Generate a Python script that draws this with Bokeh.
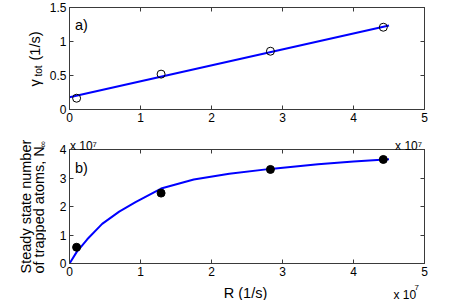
from math import pi
from bokeh.plotting import figure
from bokeh.layouts import column, row
from bokeh.models import Range1d, LinearAxis, FixedTicker, NumeralTickFormatter, Label
from bokeh.embed import file_html
from bokeh.resources import INLINE

# ---- data (R in units of 1e7 1/s) ----
R_meas = [0.1, 1.29, 2.83, 4.42]
gamma_meas = [0.166, 0.52, 0.857, 1.21]
fit_R = [0.0, 4.5]
fit_gamma = [0.18, 1.235]

N_meas = [0.57, 2.47, 3.30, 3.65]          # units of 1e7
curve_R = [0.0, 0.1, 0.25, 0.46, 0.7, 0.93, 1.29, 1.75, 2.25, 2.83, 3.5, 4.0, 4.5]
curve_N = [0.0, 0.40, 0.85, 1.39, 1.82, 2.15, 2.63, 2.95, 3.15, 3.32, 3.48, 3.58, 3.66]

x_ticks = [0, 1, 2, 3, 4, 5]
y1_ticks = [0, 0.5, 1, 1.5]
y2_ticks = [0, 1, 2, 3, 4]
exp_label = "x 10\u2077"

FONT = "Liberation Sans"
FRAME = "#3a3a3a"
BLUE = "#0000ff"

# page layout (pixels)
FRAME_L, FRAME_R = 67, 424
LW = 46                    # width of the y-label strip
H1, H2, H3 = 130, 150, 20  # heights of the rows
PW = 452 - LW


def style_axis(ax, shown):
    ax.axis_line_color = FRAME
    ax.major_tick_line_color = FRAME
    ax.major_tick_in = 4
    ax.major_tick_out = 0
    ax.minor_tick_line_color = None
    ax.major_label_text_font = FONT
    ax.major_label_text_color = "black"
    ax.major_label_text_font_size = "12px"
    ax.major_label_standoff = 3
    if not shown:
        ax.major_label_text_color = None
        ax.major_label_text_font_size = "1px"
        ax.major_label_standoff = 0


def make_fig(h, top, bottom, ymax, yticks, yfmt, above_axis=None):
    p = figure(width=PW, height=h, x_range=Range1d(0, 5), y_range=Range1d(0, ymax),
               output_backend="svg", toolbar_location=None,
               min_border_left=FRAME_L - LW, min_border_right=452 - FRAME_R,
               min_border_top=top, min_border_bottom=bottom,
               x_axis_type=None, y_axis_type=None)
    p.grid.visible = False
    p.outline_line_color = FRAME
    p.outline_line_width = 1
    ax = LinearAxis(ticker=FixedTicker(ticks=x_ticks)); style_axis(ax, True); p.add_layout(ax, "below")
    ax = LinearAxis(ticker=FixedTicker(ticks=yticks), formatter=yfmt); style_axis(ax, True); p.add_layout(ax, "left")
    ax = LinearAxis(ticker=FixedTicker(ticks=yticks)); style_axis(ax, False); p.add_layout(ax, "right")
    if above_axis is None:
        ax = LinearAxis(ticker=FixedTicker(ticks=x_ticks)); style_axis(ax, False)
    else:
        ax = above_axis
    p.add_layout(ax, "above")
    return p


def text_fig(w, h):
    t = figure(width=w, height=h, output_backend="svg", toolbar_location=None,
               x_range=Range1d(0, 1), y_range=Range1d(0, 1),
               min_border=0, x_axis_type=None, y_axis_type=None)
    t.grid.visible = False
    t.outline_line_color = None
    return t


def lab(p, x, y, text, size, align="left", baseline="alphabetic", angle=0):
    # x, y: canvas pixels from the top-left corner of the figure
    p.add_layout(Label(x=x, y=y, x_units="canvas", y_units="canvas", text=text,
                       text_font=FONT, text_font_size=size,
                       text_align=align, text_baseline=baseline, angle=angle,
                       text_color="black"))


def px_to_x(px):
    return (px - FRAME_L) / (FRAME_R - FRAME_L) * 5


# ---- y-label strip ----
tA = text_fig(LW, H1)
lab(tA, 34, 86, "γ", "14.5px", angle=pi / 2)
lab(tA, 38, 76, "tot", "10px", angle=pi / 2)
lab(tA, 34, 60, "(1/s)", "14.5px", angle=pi / 2)

tB = text_fig(LW, H2 + H3)
lab(tB, 25, 273 - H1, "Steady state number", "14.5px", angle=pi / 2)
lab(tB, 38, 273 - H1, "of trapped atoms, N", "14.5px", angle=pi / 2)
lab(tB, 42, 147 - H1, "∞", "9px", angle=pi / 2)

# ---- panel a ----
p1 = make_fig(H1, 7, 21, 1.5, y1_ticks, NumeralTickFormatter(format="0.[0]"))
p1.line(fit_R, fit_gamma, line_color=BLUE, line_width=2)
p1.scatter(R_meas, gamma_meas, marker="circle", size=8, fill_color=None,
           line_color="black", line_width=1)
lab(p1, 81 - LW, 24, "a)", "14.5px", "center", "middle")

# ---- panel b ----
# top axis of panel b: mirrored ticks as minor ticks, its labels carry the
# exponent notes (left: panel b's y scale, right: panel a's x scale)
exp_pos = [px_to_x(81), px_to_x(408)]
top_b = LinearAxis(ticker=FixedTicker(ticks=exp_pos, minor_ticks=x_ticks),
                   major_label_overrides={v: exp_label for v in exp_pos})
top_b.axis_line_color = FRAME
top_b.major_tick_line_color = None
top_b.minor_tick_line_color = FRAME
top_b.minor_tick_in = 4
top_b.minor_tick_out = 0
top_b.major_tick_in = 0
top_b.major_tick_out = 0
top_b.major_label_text_font = FONT
top_b.major_label_text_font_size = "12px"
top_b.major_label_text_color = "black"
top_b.major_label_standoff = -3

p2 = make_fig(H2, 19, 17, 4, y2_ticks, NumeralTickFormatter(format="0"), above_axis=top_b)
p2.line(curve_R, curve_N, line_color=BLUE, line_width=2)
p2.scatter(R_meas, N_meas, marker="circle", size=8, fill_color="black",
           line_color="black", line_width=1)
lab(p2, 81 - LW, 167 - H1, "b)", "14.5px", "center", "middle")

# ---- bottom strip ----
tC = text_fig(PW, H3)
O3 = H1 + H2
lab(tC, 245 - LW, 292 - O3, "R (1/s)", "14.5px", "center")
lab(tC, 393 - LW, 294 - O3, "x 10", "12px")
lab(tC, 414 - LW, 287 - O3, "7", "8px")

layout = row(column(tA, tB, spacing=0), column(p1, p2, tC, spacing=0), spacing=0)

open("out.html", "w").write(file_html(layout, INLINE))
